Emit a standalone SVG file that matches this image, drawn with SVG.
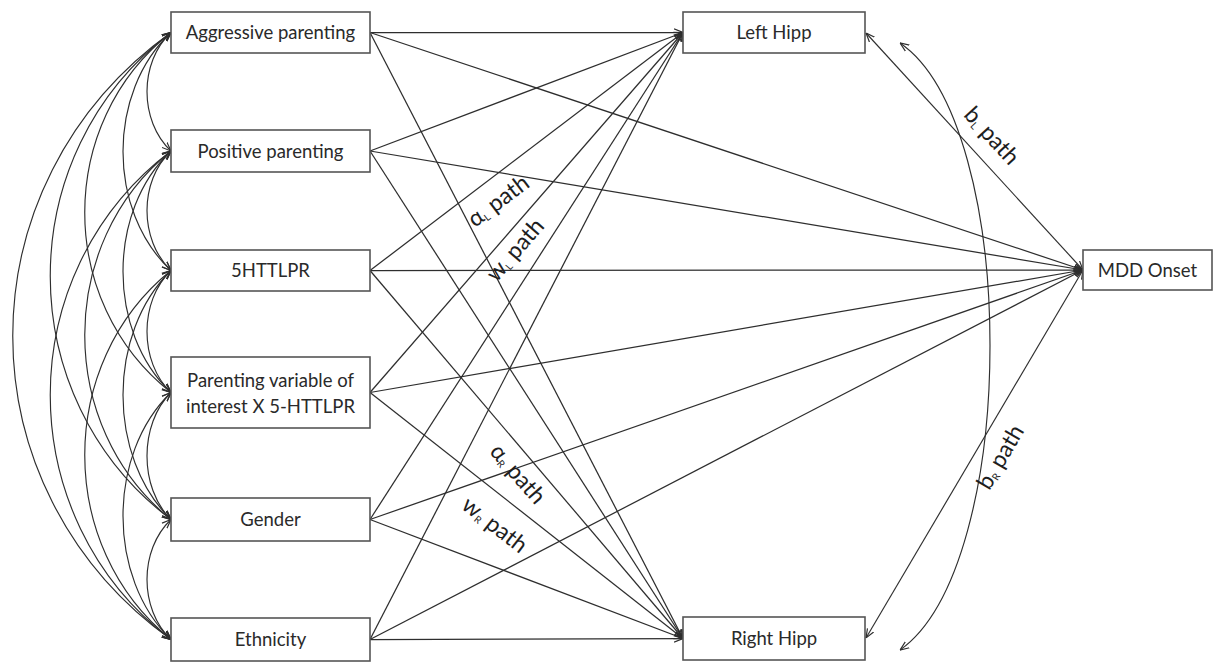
<svg xmlns="http://www.w3.org/2000/svg" width="1214" height="662" viewBox="0 0 1214 662">
  <style>
    .box { fill: #ffffff; stroke: #555555; stroke-width: 1.6; }
    .lbl { font-family: Lato, "Liberation Sans", sans-serif; font-size: 18.5px; fill: #2a2a2a; text-anchor: middle; }
    .path-lbl { font-family: Lato, "Liberation Sans", sans-serif; font-size: 23px; fill: #1e1e1e; text-anchor: middle; }
    .sub { font-size: 10px; }
    .edge { fill: none; stroke: #2e2e2e; stroke-width: 1.25; marker-end: url(#arrow); }
    .cov { fill: none; stroke: #2e2e2e; stroke-width: 1.15; marker-start: url(#arrow); marker-end: url(#arrow); }
  </style>
  <defs>
    <marker id="arrow" viewBox="0 0 10 10" refX="10" refY="5" markerWidth="9" markerHeight="9" markerUnits="userSpaceOnUse" orient="auto-start-reverse">
      <path d="M0,1 L10,5 L0,9" fill="none" stroke="#2e2e2e" stroke-width="1.3"/>
    </marker>
  </defs>
  <rect width="1214" height="662" fill="#ffffff"/>

  <!-- covariances among the exogenous variables (left side) -->
  <g id="covariances">
    <!-- span 1 -->
    <path class="cov" d="M171,32.5 C139,62 139,121 171,151"/>
    <path class="cov" d="M171,151 C139,181 139,240 171,270.5"/>
    <path class="cov" d="M171,270.5 C139,301 139,362 171,392.5"/>
    <path class="cov" d="M171,392.5 C139,424 139,488 171,519.5"/>
    <path class="cov" d="M171,519.5 C139,550 139,609 171,639.5"/>
    <!-- span 2 -->
    <path class="cov" d="M171,32.5 C107,92 107,211 171,270.5"/>
    <path class="cov" d="M171,151 C107,211 107,332 171,392.5"/>
    <path class="cov" d="M171,270.5 C107,333 107,457 171,519.5"/>
    <path class="cov" d="M171,392.5 C107,454 107,578 171,639.5"/>
    <!-- span 3 -->
    <path class="cov" d="M171,32.5 C56,123 56,302 171,392.5"/>
    <path class="cov" d="M171,151 C56,243 56,427 171,519.5"/>
    <path class="cov" d="M171,270.5 C56,363 56,547 171,639.5"/>
    <!-- span 4 -->
    <path class="cov" d="M171,32.5 C10,154 10,398 171,519.5"/>
    <path class="cov" d="M171,151 C10,273 10,517 171,639.5"/>
    <!-- span 5 -->
    <path class="cov" d="M171,32.5 C-40,184 -40,488 171,639.5"/>
  </g>

  <!-- directed paths -->
  <g id="connectors">
    <!-- to Left Hipp -->
    <line class="edge" x1="370" y1="32.5" x2="683" y2="32.5"/>
    <line class="edge" x1="370" y1="151" x2="683" y2="32.5"/>
    <line class="edge" x1="370" y1="270.5" x2="683" y2="32.5"/>
    <line class="edge" x1="370" y1="392.5" x2="683" y2="32.5"/>
    <line class="edge" x1="370" y1="519.5" x2="683" y2="32.5"/>
    <line class="edge" x1="370" y1="639.5" x2="683" y2="32.5"/>
    <!-- to Right Hipp -->
    <line class="edge" x1="370" y1="32.5" x2="683" y2="638.5"/>
    <line class="edge" x1="370" y1="151" x2="683" y2="638.5"/>
    <line class="edge" x1="370" y1="270.5" x2="683" y2="638.5"/>
    <line class="edge" x1="370" y1="392.5" x2="683" y2="638.5"/>
    <line class="edge" x1="370" y1="519.5" x2="683" y2="638.5"/>
    <line class="edge" x1="370" y1="639.5" x2="683" y2="638.5"/>
    <!-- to MDD Onset -->
    <line class="edge" x1="370" y1="32.5" x2="1083" y2="270"/>
    <line class="edge" x1="370" y1="151" x2="1083" y2="270"/>
    <line class="edge" x1="370" y1="270.5" x2="1083" y2="270"/>
    <line class="edge" x1="370" y1="392.5" x2="1083" y2="270"/>
    <line class="edge" x1="370" y1="519.5" x2="1083" y2="270"/>
    <line class="edge" x1="370" y1="639.5" x2="1083" y2="270"/>
    <!-- b paths -->
    <line class="cov" x1="866" y1="33" x2="1083" y2="270"/>
    <line class="cov" x1="866" y1="638" x2="1083" y2="270"/>
    <!-- residual covariance between hippocampi -->
    <path class="cov" d="M900,43 C1020,125 1020,565 900,650"/>
  </g>

  <!-- path labels -->
  <g id="path-labels">
    <text class="path-lbl" transform="translate(503,207) rotate(-37)">α<tspan class="sub" dy="2">L</tspan><tspan dy="-2"> path</tspan></text>
    <text class="path-lbl" transform="translate(521,255) rotate(-49)">w<tspan class="sub" dy="2">L</tspan><tspan dy="-2"> path</tspan></text>
    <text class="path-lbl" transform="translate(512,479) rotate(49)">α<tspan class="sub" dy="2">R</tspan><tspan dy="-2"> path</tspan></text>
    <text class="path-lbl" transform="translate(490,531) rotate(38)">w<tspan class="sub" dy="2">R</tspan><tspan dy="-2"> path</tspan></text>
    <text class="path-lbl" transform="translate(986,141) rotate(47.5)">b<tspan class="sub" dy="2">L</tspan><tspan dy="-2"> path</tspan></text>
    <text class="path-lbl" transform="translate(1007,461) rotate(-59.5)">b<tspan class="sub" dy="2">R</tspan><tspan dy="-2"> path</tspan></text>
  </g>

  <!-- nodes -->
  <g id="node-aggressive">
    <rect class="box" x="171" y="12" width="199" height="41"/>
    <text class="lbl" x="270.5" y="39">Aggressive parenting</text>
  </g>
  <g id="node-positive">
    <rect class="box" x="171" y="130" width="199" height="42"/>
    <text class="lbl" x="270.5" y="157.5">Positive parenting</text>
  </g>
  <g id="node-5httlpr">
    <rect class="box" x="171" y="250" width="199" height="41"/>
    <text class="lbl" x="270.5" y="277">5HTTLPR</text>
  </g>
  <g id="node-interaction">
    <rect class="box" x="171" y="357" width="199" height="71"/>
    <text class="lbl" x="270.5" y="387">Parenting variable of</text>
    <text class="lbl" x="270.5" y="413">interest X 5-HTTLPR</text>
  </g>
  <g id="node-gender">
    <rect class="box" x="171" y="498" width="199" height="43"/>
    <text class="lbl" x="270.5" y="526">Gender</text>
  </g>
  <g id="node-ethnicity">
    <rect class="box" x="171" y="618" width="199" height="43"/>
    <text class="lbl" x="270.5" y="646">Ethnicity</text>
  </g>
  <g id="node-left-hipp">
    <rect class="box" x="683" y="12" width="182" height="41"/>
    <text class="lbl" x="774" y="39">Left Hipp</text>
  </g>
  <g id="node-right-hipp">
    <rect class="box" x="683" y="617" width="182" height="43"/>
    <text class="lbl" x="774" y="645">Right Hipp</text>
  </g>
  <g id="node-mdd">
    <rect class="box" x="1083" y="250" width="129" height="40"/>
    <text class="lbl" x="1147.5" y="277">MDD Onset</text>
  </g>
</svg>
